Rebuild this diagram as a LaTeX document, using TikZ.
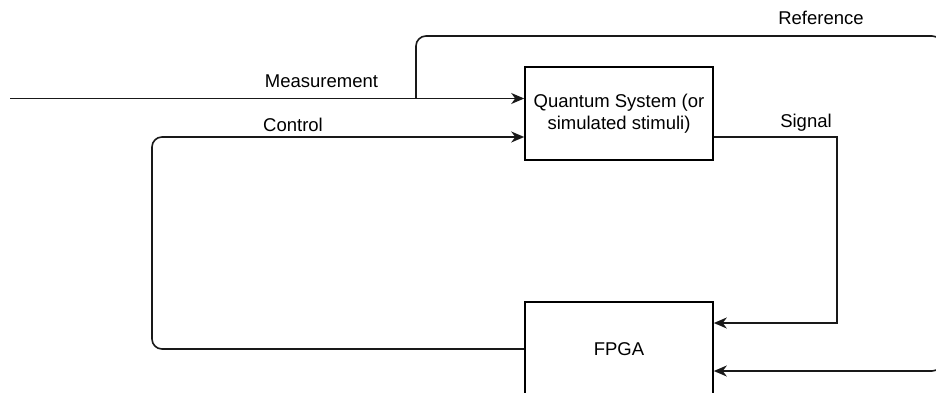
\documentclass[tikz,border=0pt]{standalone}
\usepackage{fontspec}
\setmainfont{Liberation Sans}
\usetikzlibrary{arrows.meta}
\begin{document}
\begin{tikzpicture}[x=1pt,y=-1pt,
  font=\fontsize{18.5}{22}\selectfont,
  box/.style={draw=black, line width=1.6pt, fill=white, inner sep=0pt, align=center},
  wire/.style={draw=black!90, line width=1.6pt},
  feed/.style={wire, -{Stealth[length=13pt,width=11pt,inset=4pt]}},
  lbl/.style={inner sep=0pt, text height=0.716em, text depth=0pt}]
  \useasboundingbox (0,0) rectangle (936,393);

  % blocks
  \node[box, minimum width=188pt, minimum height=93pt] (qs) at (619,113.5)
       {Quantum System (or\\simulated stimuli)};
  \node[box, minimum width=188pt, minimum height=94pt] (fpga) at (619,349) {FPGA};

  % helper points for the wiring
  \coordinate (mstart) at (10,98.5);
  \coordinate (rbranch) at (416,98.5);
  \coordinate (rtop) at (942,36);
  \coordinate (rlow) at (942,371);
  \coordinate (cleft) at (152,137);
  \coordinate (sturn) at (837,137);
  \coordinate (sdown) at (837,323);

  % measurement input
  \draw[feed] (mstart) -- (mstart -| qs.west);
  % reference branch running round to the FPGA
  \draw[feed, rounded corners=10pt] (rbranch) |- (rtop) -- (rlow) -- (rlow -| fpga.east);
  % control loop back from the FPGA
  \draw[feed, rounded corners=10pt] (fpga.west) -| (cleft) -- (cleft -| qs.west);
  % signal out to the FPGA
  \draw[feed] (qs.east |- sturn) -- (sturn) -- (sdown) -- (sdown -| fpga.east);

  % labels
  \node[lbl] (lmeas) at (321.5,83.5) {Measurement};
  \node[lbl] (lref) at (821,21) {Reference};
  \node[lbl] (lctl) at (293,128) {Control};
  \node[lbl] (lsig) at (806,124) {Signal};
\end{tikzpicture}
\end{document}
